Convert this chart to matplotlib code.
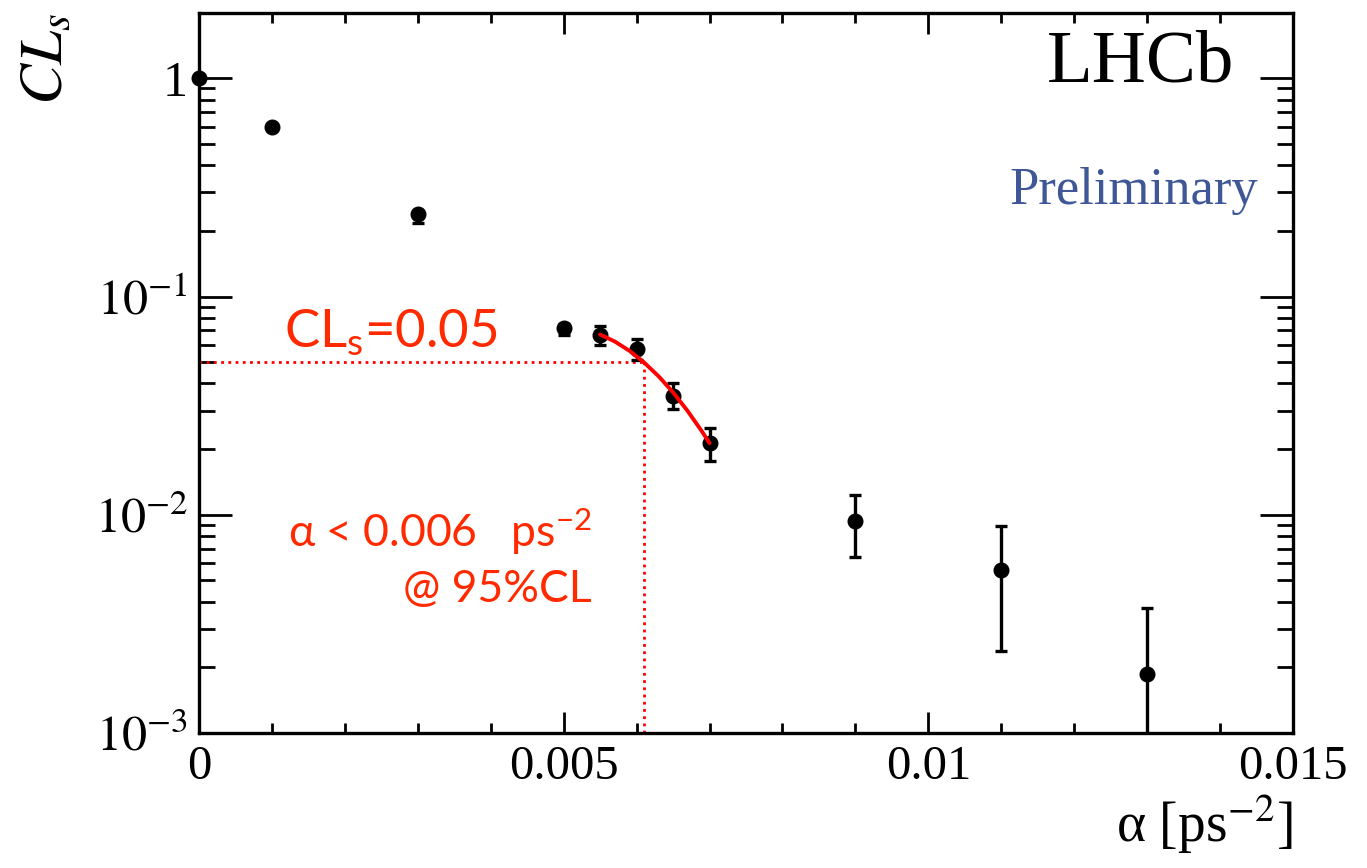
import matplotlib
matplotlib.use("Agg")
import matplotlib.pyplot as plt
from matplotlib.ticker import FixedLocator, LogLocator, NullFormatter, MultipleLocator

# ---- data ----
alpha = [0.0, 0.001, 0.003, 0.005, 0.0055, 0.006, 0.0065, 0.007, 0.009, 0.011, 0.013]
cls = [1.0, 0.60, 0.240, 0.072, 0.0667, 0.0573, 0.0350, 0.0214, 0.00937, 0.00561, 0.00186]
err_lo = [0.0, 0.0, 0.022, 0.0055, 0.0070, 0.0063, 0.0045, 0.0037, 0.00296, 0.00324, 0.00150]
err_hi = [0.0, 0.0, 0.006, 0.003, 0.0063, 0.0067, 0.0050, 0.0037, 0.00300, 0.00325, 0.00188]

fit_alpha = [0.0055, 0.0057, 0.0059, 0.0061, 0.0063, 0.0065, 0.0067, 0.0069, 0.0070]
fit_cls = [0.0670, 0.0623, 0.0565, 0.0500, 0.0432, 0.0364, 0.0299, 0.0240, 0.0213]

limit_alpha = 0.0061
limit_cls = 0.05

xticks = [0, 0.005, 0.01, 0.015]
xticklabels = ["0", "0.005", "0.01", "0.015"]

plt.rcParams['mathtext.fontset'] = 'stix'
plt.rcParams['mathtext.rm'] = 'Lato'
plt.rcParams['mathtext.it'] = 'Lato:italic'
plt.rcParams['mathtext.bf'] = 'Lato:bold'
plt.rcParams['font.family'] = ['Liberation Serif', 'DejaVu Serif']

fig = plt.figure(figsize=(13.67, 8.68), dpi=100)
ax = fig.add_axes([0.14557, 0.15553, 0.80029, 0.82984])
ax.set_yscale('log')
ax.set_xlim(0, 0.015)
ax.set_ylim(1e-3, 2.0)

red = '#ff2a00'
line_red = '#ff0000'

# dotted limit lines
ax.plot([0, limit_alpha], [limit_cls, limit_cls], color=line_red, lw=2.0,
        linestyle=(0, (1, 1.6)), zorder=2)
ax.plot([limit_alpha, limit_alpha], [1e-3, limit_cls], color=line_red, lw=2.0,
        linestyle=(0, (1, 1.6)), zorder=2)

# data points
eb = ax.errorbar(alpha, cls, yerr=[err_lo, err_hi], fmt='o', color='black',
                 markersize=10.5, elinewidth=2.4, capsize=4.5, capthick=2.4,
                 zorder=4)
eb[0].set_clip_on(False)

# fit curve
ax.plot(fit_alpha, fit_cls, color=line_red, lw=2.8, zorder=5,
        solid_capstyle='round', solid_joinstyle='round')

# frame / ticks
for s in ax.spines.values():
    s.set_linewidth(2.4)
ax.xaxis.set_major_locator(FixedLocator(xticks))
ax.set_xticklabels(xticklabels)
ax.xaxis.set_minor_locator(MultipleLocator(0.001))
ax.yaxis.set_minor_locator(LogLocator(base=10, subs=range(2, 10), numticks=20))
ax.yaxis.set_minor_formatter(NullFormatter())
ax.set_yticks([1e-3, 1e-2, 1e-1, 1])
ax.set_yticklabels([r'$10^{-3}$', r'$10^{-2}$', r'$10^{-1}$', '1'])

ax.tick_params(axis='x', which='major', direction='in', length=15, width=2,
               top=True, bottom=True, labelsize=35, pad=9)
ax.tick_params(axis='x', which='minor', direction='in', length=7.5, width=2,
               top=True, bottom=True)
ax.tick_params(axis='y', which='major', direction='in', length=23.5, width=2,
               left=True, right=True, labelsize=36, pad=8)
ax.tick_params(axis='y', which='minor', direction='in', length=11.5, width=2,
               left=True, right=True)

ax.set_xlabel(r'α [ps$^{-2}$]', fontsize=40, loc='right', labelpad=2)
ax.set_ylabel(r'$CL_{s}$', fontsize=44, loc='top', labelpad=14)

# annotations
ax.text(0.946, 0.905, 'LHCb', transform=ax.transAxes, fontsize=54,
        ha='right', va='baseline', color='black')
ax.text(0.968, 0.735, 'Preliminary', transform=ax.transAxes, fontsize=38,
        ha='right', va='baseline', color='#3f5797')

ax.text(0.078, 0.535, r'CL$_{\mathrm{s}}$=0.05', transform=ax.transAxes,
        fontsize=38, ha='left', va='baseline', color=red,
        family=['Lato', 'DejaVu Sans'], math_fontfamily='custom')
ax.text(0.359, 0.258, r'α < 0.006   ps$^{-2}$', transform=ax.transAxes,
        fontsize=32, ha='right', va='baseline', color=red,
        family=['Lato', 'DejaVu Sans'], math_fontfamily='custom')
ax.text(0.359, 0.182, '@ 95%CL', transform=ax.transAxes,
        fontsize=32, ha='right', va='baseline', color=red,
        family=['Lato', 'DejaVu Sans'])

fig.savefig('out.png', dpi=100)
